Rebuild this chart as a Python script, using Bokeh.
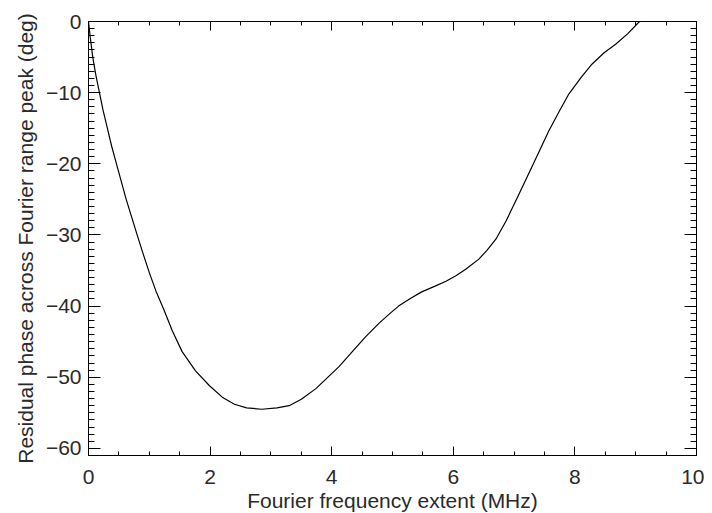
from bokeh.plotting import figure
from bokeh.models import LinearAxis, FixedTicker, Range1d, CustomJSTickFormatter
from bokeh.embed import file_html
from bokeh.resources import INLINE

# Data
freq_extent = [0.0, 0.03, 0.07, 0.12, 0.18, 0.24, 0.31, 0.38, 0.46, 0.54, 0.62, 0.71,
               0.80, 0.90, 1.00, 1.11, 1.23, 1.38, 1.54, 1.76, 1.99, 2.20, 2.40, 2.60,
               2.85, 3.10, 3.30, 3.50, 3.74, 3.90, 4.12, 4.35, 4.56, 4.78, 4.95, 5.10,
               5.30, 5.48, 5.70, 5.88, 6.05, 6.21, 6.42, 6.55, 6.70, 6.87, 7.05, 7.29,
               7.57, 7.75, 7.90, 8.10, 8.28, 8.48, 8.67, 8.87, 9.05, 9.20]
residual_phase = [0.0, -2.3, -5.0, -7.5, -10.0, -12.5, -15.0, -17.5, -20.0, -22.5, -25.0, -27.5,
                  -30.0, -32.7, -35.3, -37.9, -40.3, -43.5, -46.4, -49.1, -51.2, -52.8, -53.8, -54.3,
                  -54.5, -54.3, -54.0, -53.1, -51.6, -50.3, -48.5, -46.3, -44.3, -42.4, -41.1, -40.0,
                  -38.9, -38.0, -37.2, -36.5, -35.7, -34.8, -33.4, -32.2, -30.6, -28.0, -24.8, -20.5,
                  -15.4, -12.5, -10.2, -7.9, -6.0, -4.4, -3.2, -1.7, -0.1, 0.6]

x_major = [0, 2, 4, 6, 8, 10]
x_minor = [i * 0.5 for i in range(0, 21)]
y_major = [-60, -50, -40, -30, -20, -10, 0]
y_minor = list(range(-61, 1))
y_labels = {v: ("\u2212" + str(-v) if v < 0 else str(v)) for v in y_major}

FONT = "Liberation Sans"
FS = "21px"
TXT = "#2a2a2a"

p = figure(frame_width=608, frame_height=434, output_backend="svg", toolbar_location=None,
           x_range=Range1d(0, 10), y_range=Range1d(-61, 0),
           x_axis_type=None, y_axis_type=None,
           min_border_left=88, min_border_right=8, min_border_top=21, min_border_bottom=50)
p.grid.visible = False
p.outline_line_color = "black"
p.background_fill_color = "white"
p.border_fill_color = "white"

def style(ax, major_in, minor_in, labels=True):
    ax.axis_line_color = "black"
    ax.major_tick_line_color = "black"
    ax.minor_tick_line_color = "black"
    ax.major_tick_in = major_in
    ax.major_tick_out = 0
    ax.minor_tick_in = minor_in
    ax.minor_tick_out = 0
    ax.major_label_text_font = FONT
    ax.major_label_text_font_size = FS
    ax.major_label_text_color = TXT
    ax.axis_label_text_font = FONT
    ax.axis_label_text_font_size = FS
    ax.axis_label_text_color = TXT
    ax.axis_label_text_font_style = "normal"
    if not labels:
        ax.formatter = CustomJSTickFormatter(code="return ''")
        ax.major_label_standoff = 0

xb = LinearAxis(ticker=FixedTicker(ticks=x_major, minor_ticks=x_minor),
                axis_label="Fourier frequency extent (MHz)")
style(xb, 9, 4)
xb.major_label_standoff = 14
xb.axis_label_standoff = 2
p.add_layout(xb, "below")

xt = LinearAxis(ticker=FixedTicker(ticks=x_major, minor_ticks=x_minor))
style(xt, 9, 4, labels=False)
p.add_layout(xt, "above")

yl = LinearAxis(ticker=FixedTicker(ticks=y_major, minor_ticks=y_minor),
                axis_label="Residual phase across Fourier range peak (deg)")
style(yl, 12, 6)
yl.major_label_overrides = y_labels
yl.major_label_standoff = 7
yl.axis_label_standoff = 6
p.add_layout(yl, "left")

yr = LinearAxis(ticker=FixedTicker(ticks=y_major, minor_ticks=y_minor))
style(yr, 12, 6, labels=False)
p.add_layout(yr, "right")

p.line(freq_extent, residual_phase, line_color="black", line_width=1.2)

open("out.html", "w").write(file_html(p, INLINE))
